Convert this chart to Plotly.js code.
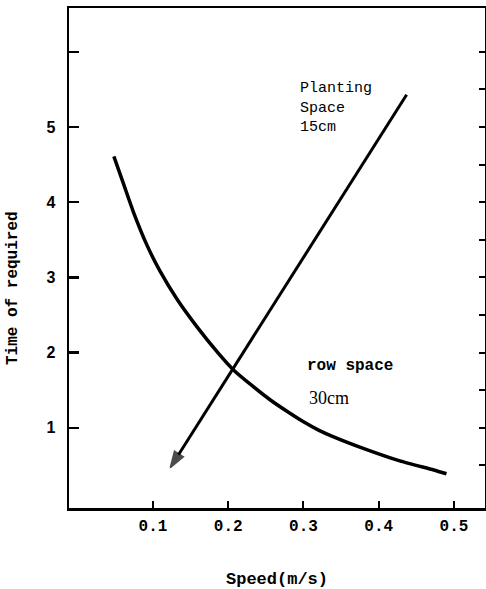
<!DOCTYPE html>
<html>
<head>
<meta charset="utf-8">
<script src="https://cdn.plot.ly/plotly-3.0.1.min.js"></script>
<style>
html,body{margin:0;padding:0;background:#fff;}
#chart{width:486px;height:589px;}
</style>
</head>
<body>
<div id="chart"></div>
<script>
// Row space 30cm curve
const rowSpeed = [0.048, 0.061, 0.074, 0.092, 0.109, 0.132, 0.158, 0.187, 0.207, 0.233, 0.256, 0.278, 0.300, 0.320, 0.340, 0.384, 0.428, 0.473, 0.490];
const rowTime  = [4.61, 4.24, 3.87, 3.43, 3.09, 2.71, 2.35, 1.99, 1.77, 1.55, 1.37, 1.22, 1.08, 0.97, 0.88, 0.71, 0.56, 0.44, 0.39];
// Planting space 15cm arrow line
const plantSpeed = [0.437, 0.123];
const plantTime  = [5.43, 0.47];
// Ticks
const xTickVals = [0.1, 0.2, 0.3, 0.4, 0.5];
const xTickText = ['0.1', '0.2', '0.3', '0.4', '0.5'];
const yTickVals = [1, 2, 3, 4, 5, 6];
const yTickText = ['1', '2', '3', '4', '5', ''];
const yRightTicks = [0.5, 1, 1.5, 2, 2.5, 3, 3.5, 4, 4.5, 5, 5.5, 6];

const traces = [
  {
    x: rowSpeed, y: rowTime, type: 'scatter', mode: 'lines',
    line: {color: '#000', width: 3.5, shape: 'spline', smoothing: 0.6},
    hoverinfo: 'skip', showlegend: false
  },
  {
    x: plantSpeed, y: plantTime, type: 'scatter', mode: 'lines+markers',
    line: {color: '#000', width: 3},
    marker: {symbol: ['circle', 'arrow'], size: [0, 17], angleref: 'previous', color: '#000',
             line: {color: '#000', width: 1.5}},
    hoverinfo: 'skip', showlegend: false
  },
  {
    x: [0.2], y: [1], yaxis: 'y2', type: 'scatter', mode: 'markers',
    marker: {size: 0, opacity: 0}, hoverinfo: 'skip', showlegend: false
  }
];

const layout = {
  width: 486, height: 589,
  margin: {l: 69, r: 1, t: 8, b: 81},
  paper_bgcolor: '#fff', plot_bgcolor: '#fff',
  showlegend: false,
  xaxis: {
    range: [-0.0116, 0.5412],
    tickvals: xTickVals, ticktext: xTickText,
    ticks: 'inside', ticklen: 7, tickwidth: 2, tickcolor: '#000',
    showline: true, linewidth: 2.5, linecolor: '#000', mirror: true,
    showgrid: false, zeroline: false,
    tickfont: {family: 'Liberation Mono', size: 16, color: '#000', weight: 'bold'},
    ticklabelstandoff: 1,
    title: {text: 'Speed(m/s)', font: {family: 'Liberation Mono', size: 17, color: '#000', weight: 'bold'}, standoff: 44}
  },
  yaxis: {
    range: [-0.066, 6.583],
    tickvals: yTickVals, ticktext: yTickText,
    ticks: 'inside', ticklen: 10, tickwidth: 2.5, tickcolor: '#000',
    showline: true, linewidth: 2.5, linecolor: '#000', mirror: true,
    showgrid: false, zeroline: false,
    tickfont: {family: 'Liberation Sans', size: 16, color: '#000', weight: 'bold'},
    ticklabelstandoff: 8
  },
  yaxis2: {
    overlaying: 'y', side: 'right', range: [-0.066, 6.583],
    tickvals: yRightTicks, showticklabels: false,
    ticks: 'inside', ticklen: 6, tickwidth: 2, tickcolor: '#000',
    showline: false, showgrid: false, zeroline: false
  },
  annotations: [
    {x: 13, y: 288, xref: 'paper', yref: 'paper', text: 'Time of required', showarrow: false,
     textangle: -90, xanchor: 'center', yanchor: 'middle',
     font: {family: 'Liberation Mono', size: 16, color: '#000', weight: 'bold'}},
    {x: 0.2927, y: 5.65, xref: 'x', yref: 'y', xanchor: 'left', yanchor: 'top', align: 'left',
     text: 'Planting<br>Space<br>15cm', showarrow: false,
     font: {family: 'Liberation Mono', size: 15, color: '#000'}},
    {x: 0.302, y: 1.82, xref: 'x', yref: 'y', xanchor: 'left', yanchor: 'middle', align: 'left',
     text: 'row space', showarrow: false,
     font: {family: 'Liberation Mono', size: 16, color: '#000', weight: 'bold'}},
    {x: 0.3047, y: 1.40, xref: 'x', yref: 'y', xanchor: 'left', yanchor: 'middle', align: 'left',
     text: '30cm', showarrow: false,
     font: {family: 'Liberation Serif', size: 18, color: '#000'}}
  ]
};
// paper-pixel conversion for the y title annotation
const plotW = layout.width - layout.margin.l - layout.margin.r;
const plotH = layout.height - layout.margin.t - layout.margin.b;
layout.annotations[0].x = (13 - layout.margin.l) / plotW;
layout.annotations[0].y = (layout.height - layout.margin.b - 288) / plotH;

Plotly.newPlot('chart', traces, layout, {displayModeBar: false, staticPlot: true});
</script>
</body>
</html>
